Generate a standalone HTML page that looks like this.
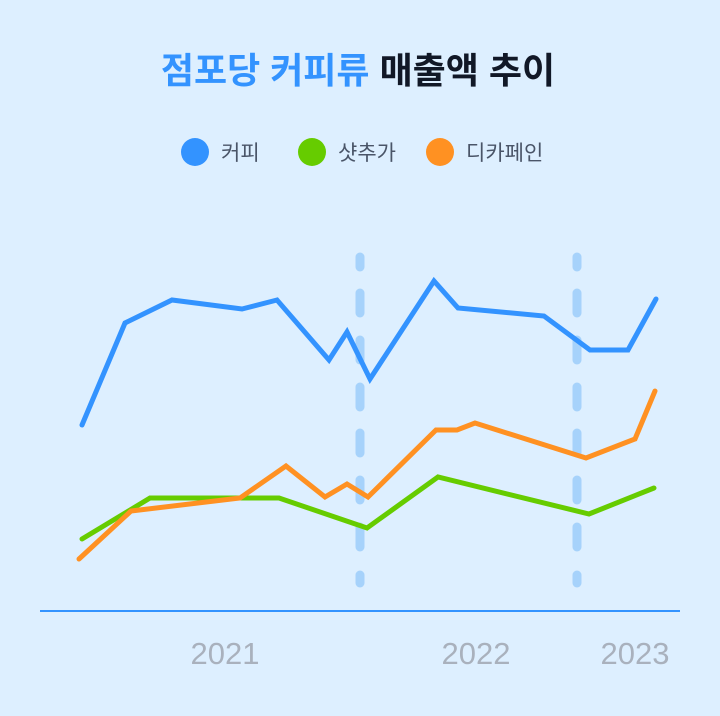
<!DOCTYPE html>
<html><head><meta charset="utf-8"><style>
html,body{margin:0;padding:0;background:#ddefff;}
svg{display:block;}
text{font-family:"Liberation Sans","Noto Sans CJK KR",sans-serif;}
</style></head><body>
<svg width="720" height="716" viewBox="0 0 720 716">
<rect width="720" height="716" fill="#ddefff"/>
<text x="358" y="83" text-anchor="middle" font-size="36" font-weight="bold"><tspan fill="#3393ff">점포당 커피류</tspan><tspan fill="#111827"> 매출액 추이</tspan></text>
<circle cx="195" cy="152" r="14" fill="#3393ff"/>
<text x="221" y="160" font-size="21" fill="#4a5568">커피</text>
<circle cx="312" cy="152" r="14" fill="#66cc00"/>
<text x="338" y="160" font-size="21" fill="#4a5568">샷추가</text>
<circle cx="440" cy="152" r="14" fill="#ff9122"/>
<text x="466" y="160" font-size="21" fill="#4a5568">디카페인</text>
<g stroke="#a6d2fb" stroke-width="9" stroke-linecap="round">
<line x1="360" y1="257" x2="360" y2="267"/><line x1="577" y1="257" x2="577" y2="267"/>
<line x1="360" y1="293" x2="360" y2="313"/><line x1="577" y1="293" x2="577" y2="313"/>
<line x1="360" y1="340" x2="360" y2="360"/><line x1="577" y1="340" x2="577" y2="360"/>
<line x1="360" y1="387" x2="360" y2="407"/><line x1="577" y1="387" x2="577" y2="407"/>
<line x1="360" y1="433" x2="360" y2="453"/><line x1="577" y1="433" x2="577" y2="453"/>
<line x1="360" y1="480" x2="360" y2="500"/><line x1="577" y1="480" x2="577" y2="500"/>
<line x1="360" y1="527" x2="360" y2="547"/><line x1="577" y1="527" x2="577" y2="547"/>
<line x1="360" y1="575" x2="360" y2="583"/><line x1="577" y1="575" x2="577" y2="583"/>
</g>
<line x1="40" y1="611" x2="680" y2="611" stroke="#3393ff" stroke-width="2"/>
<g fill="none" stroke-width="5" stroke-linejoin="miter" stroke-linecap="round">
<polyline stroke="#3393ff" points="82,425 125,323 172,300 242,309 277,300 329,360 347,332 370,379 434,281 458,308 544,316 590,350 628,350 656,299"/>
<polyline stroke="#66cc00" points="82,539 150,498 279,498 367,528 438,477 589,514 654,488"/>
<polyline stroke="#ff9122" points="79,559 131,511 240,498 286,466 325,497 347,484 368,497 436,430 457,430 475,423 586,458 635,439 655,391"/>
</g>
<g font-size="31" fill="#a9b1bd" text-anchor="middle">
<text x="225" y="664">2021</text>
<text x="476" y="664">2022</text>
<text x="635" y="664">2023</text>
</g>
</svg>
</body></html>
